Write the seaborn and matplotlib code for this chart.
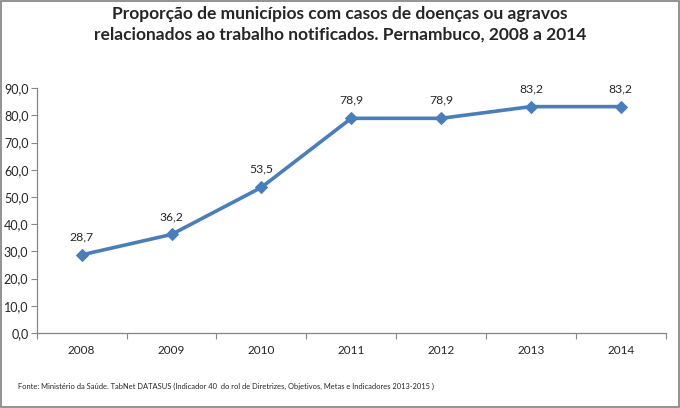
import pandas as pd
import matplotlib.pyplot as plt
import seaborn as sns
from matplotlib.patches import Rectangle

anos = ['2008', '2009', '2010', '2011', '2012', '2013', '2014']
valores = [28.7, 36.2, 53.5, 78.9, 78.9, 83.2, 83.2]
y_ticks = [0, 10, 20, 30, 40, 50, 60, 70, 80, 90]

titulo = ('Proporção de municípios com casos de doenças ou agravos\n'
          'relacionados ao trabalho notificados. Pernambuco, 2008 a 2014')
fonte = ('Fonte: Ministério da Saúde. TabNet DATASUS (Indicador 40  do rol de Diretrizes, '
         'Objetivos, Metas e Indicadores 2013-2015 )')

sns.set_style('white')
plt.rcParams['font.family'] = ['Lato', 'DejaVu Sans']

df = pd.DataFrame({'ano': anos, 'valor': valores})
cor = '#4A7EBB'
eixo = '#868686'

fig = plt.figure(figsize=(6.8, 4.08), dpi=100)
ax = fig.add_axes([0.054, 0.184, 0.925, 0.6])

sns.lineplot(data=df, x='ano', y='valor', marker='D', markersize=6,
             color=cor, linewidth=2.6, markeredgecolor=cor, ax=ax)

for i, v in enumerate(valores):
    ax.annotate(f'{v:.1f}'.replace('.', ','), (i, v), xytext=(0, 9),
                textcoords='offset points', ha='center', va='bottom', fontsize=8.8)

ax.set_xlim(-0.5, len(anos) - 0.5)
ax.set_ylim(0, 90)
ax.set_yticks(y_ticks)
ax.set_yticklabels([f'{t:.1f}'.replace('.', ',') for t in y_ticks], fontsize=9)
ax.set_xticks([i - 0.5 for i in range(len(anos) + 1)])
ax.set_xticklabels([])
ax.set_xticks(range(len(anos)), minor=True)
ax.set_xticklabels(anos, minor=True, fontsize=8.5)
ax.tick_params(axis='x', which='major', length=4, color=eixo, direction='out', bottom=True)
ax.tick_params(axis='x', which='minor', length=0, pad=9)
ax.tick_params(axis='y', length=4, color=eixo, direction='out', left=True, pad=2)
ax.set_xlabel('')
ax.set_ylabel('')
for s in ['top', 'right']:
    ax.spines[s].set_visible(False)
for s in ['left', 'bottom']:
    ax.spines[s].set_color(eixo)
    ax.spines[s].set_linewidth(0.9)

fig.text(0.5, 0.985, titulo, ha='center', va='top', fontsize=12.5,
         fontweight='bold', linespacing=1.35)
fig.text(0.027, 0.052, fonte, ha='left', va='center', fontsize=5.4)

fig.patches.append(Rectangle((0.001, 0.002), 0.997, 0.995, transform=fig.transFigure,
                             fill=False, edgecolor='#808080', linewidth=1.2))

fig.savefig('out.png', dpi=100)
plt.close()
